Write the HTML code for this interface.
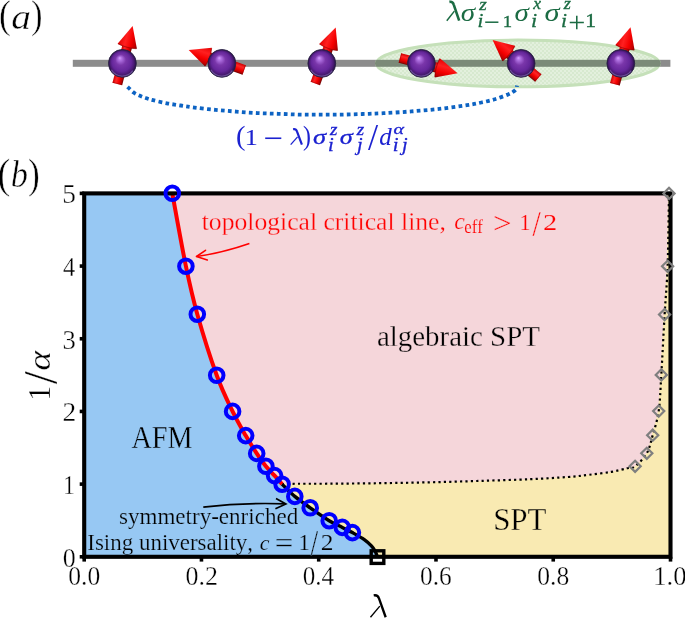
<!DOCTYPE html><html><head><meta charset="utf-8"><style>html,body{margin:0;padding:0;background:#fff;overflow:hidden}svg{display:block;will-change:transform}text{font-family:"Liberation Serif",serif;font-kerning:none}</style></head><body>
<svg width="685" height="618" viewBox="0 0 685 618">
<defs>
<radialGradient id="sph" cx="0.5" cy="0.5" r="0.5" fx="0.4" fy="0.3">
<stop offset="0" stop-color="#d8a0ff"/><stop offset="0.12" stop-color="#b274e4"/><stop offset="0.38" stop-color="#7a36aa"/><stop offset="0.7" stop-color="#64269a"/><stop offset="0.86" stop-color="#4a1a74"/><stop offset="0.96" stop-color="#2e1250"/><stop offset="1" stop-color="#1e0c38"/>
</radialGradient>
<radialGradient id="rim" cx="0.5" cy="0.5" r="0.5" fx="0.55" fy="0.25">
<stop offset="0.8" stop-color="#9a80d0" stop-opacity="0"/><stop offset="0.97" stop-color="#9a80d0" stop-opacity="0.55"/><stop offset="1" stop-color="#9a80d0" stop-opacity="0"/>
</radialGradient>
<linearGradient id="arr" x1="0" y1="0" x2="1" y2="0">
<stop offset="0" stop-color="#c00000"/><stop offset="0.45" stop-color="#ff2020"/><stop offset="1" stop-color="#b00000"/>
</linearGradient>
<linearGradient id="arrS" x1="0" y1="0" x2="0" y2="1"><stop offset="0" stop-color="#d00000"/><stop offset="0.3" stop-color="#ff2626"/><stop offset="0.62" stop-color="#f20000"/><stop offset="0.85" stop-color="#b80000"/><stop offset="1" stop-color="#6a0000"/></linearGradient>
<linearGradient id="arrH" x1="0" y1="0" x2="0" y2="1"><stop offset="0" stop-color="#e40000"/><stop offset="0.35" stop-color="#ff2020"/><stop offset="0.65" stop-color="#f40000"/><stop offset="0.88" stop-color="#c00000"/><stop offset="1" stop-color="#700000"/></linearGradient>
<pattern id="hatch" width="4" height="4" patternUnits="userSpaceOnUse"><rect width="4" height="4" fill="#e3f0dd"/><rect width="2" height="2" fill="#d7e9cf"/><rect x="2" y="2" width="2" height="2" fill="#d7e9cf"/></pattern>
<clipPath id="ax"><rect x="84.2" y="193.4" width="586.3" height="363.4"/></clipPath>
</defs>
<g clip-path="url(#ax)">
<rect x="84.2" y="193.4" width="586.3" height="363.4" fill="#f9eab2"/>
<path d="M172.3,180 L668.7,180 L668.1,193.4 C667.87,205.55 667.43,246.1 666.7,266.3 C665.97,286.5 664.75,296.5 663.7,314.6 C662.65,332.7 661.38,358.82 660.4,374.9 C659.42,390.98 659.23,401.05 657.8,411.1 C656.37,421.15 653.7,428.17 651.8,435.2 C649.9,442.23 649.25,448.12 646.4,453.3 C643.55,458.48 637.97,463.8 634.7,466.3 C631.43,468.8 630.8,467.37 626.8,468.3 C622.8,469.23 617.03,470.82 610.7,471.9 C604.37,472.98 596.05,473.95 588.8,474.8 C581.55,475.65 577.07,476.27 567.2,477 C557.33,477.73 544.2,478.55 529.6,479.2 C515,479.85 496.27,480.38 479.6,480.9 C462.93,481.42 446.27,481.92 429.6,482.3 C412.93,482.68 396.27,482.97 379.6,483.2 C362.93,483.43 344.6,483.6 329.6,483.7 C314.6,483.8 297.58,483.72 289.6,483.8 C281.62,483.88 283.02,484.13 281.7,484.2 L282.1,484.2 C280.85,482.77 277.3,478.58 274.6,475.6 C271.9,472.62 268.88,470 265.9,466.3 C262.92,462.6 260.07,458.52 256.7,453.4 C253.33,448.28 249.72,442.6 245.7,435.6 C241.68,428.6 237.43,421.45 232.6,411.4 C227.77,401.35 222.58,391.5 216.7,375.3 C210.82,359.1 202.43,332.38 197.3,314.2 C192.17,296.02 190.07,286.35 185.9,266.2 C181.73,246.05 174.57,205.45 172.3,193.3 Z" fill="#f5d6da"/>
<path d="M70,180 L172.3,180 L172.3,193.3 C174.57,205.45 181.73,246.05 185.9,266.2 C190.07,286.35 192.17,296.02 197.3,314.2 C202.43,332.38 210.82,359.1 216.7,375.3 C222.58,391.5 227.77,401.35 232.6,411.4 C237.43,421.45 241.68,428.6 245.7,435.6 C249.72,442.6 253.33,448.28 256.7,453.4 C260.07,458.52 262.92,462.6 265.9,466.3 C268.88,470 271.9,472.62 274.6,475.6 C277.3,478.58 280.85,482.77 282.1,484.2 L282.1,484.2 C284.22,486.23 290.12,492.47 294.8,496.4 C299.48,500.33 304.47,503.75 310.2,507.8 C315.93,511.85 323.85,517.43 329.2,520.7 C334.55,523.97 338.43,525.42 342.3,527.4 C346.17,529.38 348.73,530.57 352.4,532.6 C356.07,534.63 361.13,537.38 364.3,539.6 C367.47,541.82 369.58,543.97 371.4,545.9 C373.22,547.83 374.2,549.35 375.2,551.2 C376.2,553.05 377.03,556.03 377.4,557 L377.4,570 L70,570 Z" fill="#97c8f3"/>
</g>
<path d="M669,193.4 C668.77,205.55 668.33,246.1 667.6,266.3 C666.87,286.5 665.65,296.5 664.6,314.6 C663.55,332.7 662.28,358.82 661.3,374.9 C660.32,390.98 660.13,401.05 658.7,411.1 C657.27,421.15 654.68,428.17 652.7,435.2 C650.72,442.23 649.73,448.12 646.8,453.3 C643.87,458.48 638.37,463.8 635.1,466.3 C631.83,468.8 631.2,467.37 627.2,468.3 C623.2,469.23 617.43,470.82 611.1,471.9 C604.77,472.98 596.45,473.95 589.2,474.8 C581.95,475.65 577.47,476.27 567.6,477 C557.73,477.73 544.6,478.55 530,479.2 C515.4,479.85 496.67,480.38 480,480.9 C463.33,481.42 446.67,481.92 430,482.3 C413.33,482.68 396.67,482.97 380,483.2 C363.33,483.43 345,483.6 330,483.7 C315,483.8 297.98,483.72 290,483.8 C282.02,483.88 283.42,484.13 282.1,484.2" fill="none" stroke="#000" stroke-width="2.2" stroke-dasharray="2.2 3.2"/>
<path d="M172.3,193.3 C174.57,205.45 181.73,246.05 185.9,266.2 C190.07,286.35 192.17,296.02 197.3,314.2 C202.43,332.38 210.82,359.1 216.7,375.3 C222.58,391.5 227.77,401.35 232.6,411.4 C237.43,421.45 241.68,428.6 245.7,435.6 C249.72,442.6 253.33,448.28 256.7,453.4 C260.07,458.52 262.92,462.6 265.9,466.3 C268.88,470 271.9,472.62 274.6,475.6 C277.3,478.58 280.85,482.77 282.1,484.2" fill="none" stroke="#ff0000" stroke-width="4.0"/>
<path d="M282.1,484.2 C284.22,486.23 290.12,492.47 294.8,496.4 C299.48,500.33 304.47,503.75 310.2,507.8 C315.93,511.85 323.85,517.43 329.2,520.7 C334.55,523.97 338.43,525.42 342.3,527.4 C346.17,529.38 348.73,530.57 352.4,532.6 C356.07,534.63 361.13,537.38 364.3,539.6 C367.47,541.82 369.58,543.97 371.4,545.9 C373.22,547.83 374.2,549.35 375.2,551.2 C376.2,553.05 377.03,556.03 377.4,557" fill="none" stroke="#000" stroke-width="3.4"/>
<rect x="84.2" y="193.4" width="586.3" height="363.4" fill="none" stroke="#000" stroke-width="4.1"/>
<line x1="84.2" y1="556.8" x2="84.2" y2="561.6" stroke="#000" stroke-width="3.6"/>
<line x1="79.7" y1="556.8" x2="84.2" y2="556.8" stroke="#000" stroke-width="3.6"/>
<line x1="201.46" y1="556.8" x2="201.46" y2="561.6" stroke="#000" stroke-width="3.6"/>
<line x1="79.7" y1="484.12" x2="84.2" y2="484.12" stroke="#000" stroke-width="3.6"/>
<line x1="318.72" y1="556.8" x2="318.72" y2="561.6" stroke="#000" stroke-width="3.6"/>
<line x1="79.7" y1="411.44" x2="84.2" y2="411.44" stroke="#000" stroke-width="3.6"/>
<line x1="435.98" y1="556.8" x2="435.98" y2="561.6" stroke="#000" stroke-width="3.6"/>
<line x1="79.7" y1="338.76" x2="84.2" y2="338.76" stroke="#000" stroke-width="3.6"/>
<line x1="553.24" y1="556.8" x2="553.24" y2="561.6" stroke="#000" stroke-width="3.6"/>
<line x1="79.7" y1="266.08" x2="84.2" y2="266.08" stroke="#000" stroke-width="3.6"/>
<line x1="670.5" y1="556.8" x2="670.5" y2="561.6" stroke="#000" stroke-width="3.6"/>
<line x1="79.7" y1="193.4" x2="84.2" y2="193.4" stroke="#000" stroke-width="3.6"/>
<path d="M669,187.8 L674.6,193.4 L669,199 L663.4,193.4 Z" fill="none" stroke="#7f7f7f" stroke-width="2.2"/>
<path d="M667.6,260.7 L673.2,266.3 L667.6,271.9 L662,266.3 Z" fill="none" stroke="#7f7f7f" stroke-width="2.2"/>
<path d="M664.6,309 L670.2,314.6 L664.6,320.2 L659,314.6 Z" fill="none" stroke="#7f7f7f" stroke-width="2.2"/>
<path d="M661.3,369.3 L666.9,374.9 L661.3,380.5 L655.7,374.9 Z" fill="none" stroke="#7f7f7f" stroke-width="2.2"/>
<path d="M658.7,405.5 L664.3,411.1 L658.7,416.7 L653.1,411.1 Z" fill="none" stroke="#7f7f7f" stroke-width="2.2"/>
<path d="M652.7,429.6 L658.3,435.2 L652.7,440.8 L647.1,435.2 Z" fill="none" stroke="#7f7f7f" stroke-width="2.2"/>
<path d="M646.8,447.7 L652.4,453.3 L646.8,458.9 L641.2,453.3 Z" fill="none" stroke="#7f7f7f" stroke-width="2.2"/>
<path d="M635.1,460.7 L640.7,466.3 L635.1,471.9 L629.5,466.3 Z" fill="none" stroke="#7f7f7f" stroke-width="2.2"/>
<circle cx="172.3" cy="193.3" r="6.8" fill="none" stroke="#0000ff" stroke-width="4.0"/>
<circle cx="185.9" cy="266.2" r="6.8" fill="none" stroke="#0000ff" stroke-width="4.0"/>
<circle cx="197.3" cy="314.2" r="6.8" fill="none" stroke="#0000ff" stroke-width="4.0"/>
<circle cx="216.7" cy="375.3" r="6.8" fill="none" stroke="#0000ff" stroke-width="4.0"/>
<circle cx="232.6" cy="411.4" r="6.8" fill="none" stroke="#0000ff" stroke-width="4.0"/>
<circle cx="245.7" cy="435.6" r="6.8" fill="none" stroke="#0000ff" stroke-width="4.0"/>
<circle cx="256.7" cy="453.4" r="6.8" fill="none" stroke="#0000ff" stroke-width="4.0"/>
<circle cx="265.9" cy="466.3" r="6.8" fill="none" stroke="#0000ff" stroke-width="4.0"/>
<circle cx="274.6" cy="475.6" r="6.8" fill="none" stroke="#0000ff" stroke-width="4.0"/>
<circle cx="282.1" cy="484.2" r="6.8" fill="none" stroke="#0000ff" stroke-width="4.0"/>
<circle cx="294.8" cy="496.4" r="6.8" fill="none" stroke="#0000ff" stroke-width="4.0"/>
<circle cx="310.2" cy="507.8" r="6.8" fill="none" stroke="#0000ff" stroke-width="4.0"/>
<circle cx="329.2" cy="520.7" r="6.8" fill="none" stroke="#0000ff" stroke-width="4.0"/>
<circle cx="342.3" cy="527.4" r="6.8" fill="none" stroke="#0000ff" stroke-width="4.0"/>
<circle cx="352.4" cy="532.6" r="6.8" fill="none" stroke="#0000ff" stroke-width="4.0"/>
<rect x="371.2" y="550.8" width="12.6" height="12.6" fill="none" stroke="#000" stroke-width="3.4"/>
<path d="M249.4,243.4 Q222.9,252.6 196.6,256.5" fill="none" stroke="#f00" stroke-width="1.6"/>
<path d="M205.5,250.3 L196.5,256.5 L207.3,260" fill="none" stroke="#f00" stroke-width="1.6" stroke-linecap="round" stroke-linejoin="round"/>
<path d="M203.3,507.1 Q245,502.3 285.6,503.9" fill="none" stroke="#000" stroke-width="1.7"/>
<path d="M276,498.4 L285.9,503.9 L275.4,508.8" fill="none" stroke="#000" stroke-width="1.7" stroke-linejoin="miter"/>
<text transform="translate(201.75,229.8) scale(1.0177,1)" font-size="25.2" style="white-space:pre" fill="#ff0000" stroke="#f5d6da" stroke-width="0.28" vector-effect="non-scaling-stroke">topological critical line,</text>
<text transform="translate(454.17,229.27) scale(0.2386,0.2370)" font-size="100" style="font-style:italic;" fill="#ff0000" stroke="#f5d6da" stroke-width="0.25" vector-effect="non-scaling-stroke">c</text>
<text transform="translate(464.35,233.4) scale(0.9287,1)" font-size="18" style="white-space:pre" fill="#ff0000" stroke="#f5d6da" stroke-width="0.13" vector-effect="non-scaling-stroke">eff</text>
<text transform="translate(493.02,233.04) scale(0.3309,0.2902)" font-size="100" style="" fill="#ff0000" stroke="#f5d6da" stroke-width="0.30" vector-effect="non-scaling-stroke">&gt;</text>
<text transform="translate(519.55,229.5) scale(0.2216,0.2257)" font-size="100" style="" fill="#ff0000" stroke="#f5d6da" stroke-width="0.23" vector-effect="non-scaling-stroke">1</text>
<text transform="translate(532.5,236.14) scale(0.2951,0.3662)" font-size="100" style="" fill="#ff0000" stroke="#f5d6da" stroke-width="0.30" vector-effect="non-scaling-stroke">/</text>
<text transform="translate(542.95,229.5) scale(0.2844,0.2250)" font-size="100" style="" fill="#ff0000" stroke="#f5d6da" stroke-width="0.23" vector-effect="non-scaling-stroke">2</text>
<text transform="translate(376.88,346.3) scale(0.9549,1)" font-size="30.3" style="white-space:pre" fill="#000" stroke="#f5d6da" stroke-width="0.30" vector-effect="non-scaling-stroke">algebraic SPT</text>
<text transform="translate(131.42,448) scale(0.9228,1)" font-size="30.6" style="white-space:pre" fill="#000" stroke="#97c8f3" stroke-width="0.30" vector-effect="non-scaling-stroke">AFM</text>
<text transform="translate(493.13,530.1) scale(0.9994,1)" font-size="31" style="white-space:pre" fill="#000" stroke="#f9eab2" stroke-width="0.30" vector-effect="non-scaling-stroke">SPT</text>
<text transform="translate(119.05,523.9) scale(0.9936,1)" font-size="23.2" style="white-space:pre" fill="#000" stroke="#97c8f3" stroke-width="0.24" vector-effect="non-scaling-stroke">symmetry-enriched</text>
<text transform="translate(87.27,549.8) scale(0.9859,1)" font-size="23.3" style="white-space:pre" fill="#000" stroke="#97c8f3" stroke-width="0.24" vector-effect="non-scaling-stroke">Ising universality,</text>
<text transform="translate(259.73,549.59) scale(0.2187,0.2121)" font-size="100" style="font-style:italic;" fill="#000" stroke="#97c8f3" stroke-width="0.20" vector-effect="non-scaling-stroke">c</text>
<text transform="translate(274.86,552.95) scale(0.3288,0.2920)" font-size="100" style="" fill="#000" stroke="#97c8f3" stroke-width="0.30" vector-effect="non-scaling-stroke">=</text>
<text transform="translate(298.6,549.8) scale(0.2272,0.2257)" font-size="100" style="" fill="#000" stroke="#97c8f3" stroke-width="0.23" vector-effect="non-scaling-stroke">1</text>
<text transform="translate(310.8,555.36) scale(0.2627,0.3498)" font-size="100" style="" fill="#000" stroke="#97c8f3" stroke-width="0.30" vector-effect="non-scaling-stroke">/</text>
<text transform="translate(320.68,549.8) scale(0.2544,0.2250)" font-size="100" style="" fill="#000" stroke="#97c8f3" stroke-width="0.23" vector-effect="non-scaling-stroke">2</text>
<text transform="translate(68.23,584.7) scale(0.9466,1)" font-size="27" style="white-space:pre" fill="#000" stroke="#fff" stroke-width="0.30" vector-effect="non-scaling-stroke">0.0</text>
<text transform="translate(185.47,584.7) scale(0.9606,1)" font-size="27" style="white-space:pre" fill="#000" stroke="#fff" stroke-width="0.30" vector-effect="non-scaling-stroke">0.2</text>
<text transform="translate(302.76,584.7) scale(0.9288,1)" font-size="27" style="white-space:pre" fill="#000" stroke="#fff" stroke-width="0.30" vector-effect="non-scaling-stroke">0.4</text>
<text transform="translate(420.01,584.7) scale(0.9399,1)" font-size="27" style="white-space:pre" fill="#000" stroke="#fff" stroke-width="0.30" vector-effect="non-scaling-stroke">0.6</text>
<text transform="translate(537.27,584.7) scale(0.9466,1)" font-size="27" style="white-space:pre" fill="#000" stroke="#fff" stroke-width="0.30" vector-effect="non-scaling-stroke">0.8</text>
<text transform="translate(653.15,584.7) scale(0.9885,1)" font-size="27" style="white-space:pre" fill="#000" stroke="#fff" stroke-width="0.30" vector-effect="non-scaling-stroke">1.0</text>
<text transform="translate(62.21,202.54) scale(0.2731,0.2694)" font-size="100" style="" fill="#000" stroke="#fff" stroke-width="0.30" vector-effect="non-scaling-stroke">5</text>
<text transform="translate(63.12,275.8) scale(0.2452,0.2735)" font-size="100" style="" fill="#000" stroke="#fff" stroke-width="0.30" vector-effect="non-scaling-stroke">4</text>
<text transform="translate(62.53,348.53) scale(0.2663,0.2813)" font-size="100" style="" fill="#000" stroke="#fff" stroke-width="0.30" vector-effect="non-scaling-stroke">3</text>
<text transform="translate(62.59,420.8) scale(0.2744,0.2673)" font-size="100" style="" fill="#000" stroke="#fff" stroke-width="0.30" vector-effect="non-scaling-stroke">2</text>
<text transform="translate(62.93,493.8) scale(0.2358,0.2681)" font-size="100" style="" fill="#000" stroke="#fff" stroke-width="0.30" vector-effect="non-scaling-stroke">1</text>
<text transform="translate(62.81,566.74) scale(0.2595,0.2697)" font-size="100" style="" fill="#000" stroke="#fff" stroke-width="0.30" vector-effect="non-scaling-stroke">0</text>
<path d="M373.71,595.39 Q377.8,594.7 378.99,598.5 L385.69,617.26" fill="none" stroke="#000" stroke-width="2.35"/>
<path d="M379.81,606.15 L370.47,617.26" fill="none" stroke="#000" stroke-width="1.36"/>
<text transform="translate(49.6,400.65) rotate(-90) scale(0.3011,0.3181)" font-size="100" style="" fill="#000" stroke="#fff" stroke-width="0.30" vector-effect="non-scaling-stroke">1</text>
<text transform="translate(57.23,384.2) rotate(-90) scale(0.4643,0.4828)" font-size="100" style="" fill="#000" stroke="#fff" stroke-width="0.30" vector-effect="non-scaling-stroke">/</text>
<text transform="translate(50.17,370.73) rotate(-90) scale(0.3791,0.3195)" font-size="100" style="font-style:italic;" fill="#000" stroke="#fff" stroke-width="0.30" vector-effect="non-scaling-stroke">α</text>
<rect x="72.8" y="59.8" width="597.6" height="7" fill="#8c8c8c"/>
<ellipse cx="517.9" cy="63.45" rx="141.5" ry="23.35" fill="url(#hatch)" stroke="#c5e0b9" stroke-width="3"/>
<clipPath id="elc"><ellipse cx="517.9" cy="63.45" rx="143" ry="24.85"/></clipPath>
<rect x="370" y="59.8" width="300.4" height="7" fill="#7b8a78" clip-path="url(#elc)"/>
<path id="blc" d="M127.6,86.8 C128.6,87.75 131.53,91 133.6,92.5 C135.67,94 137.88,94.85 140,95.8 C142.12,96.75 144.12,97.47 146.3,98.2 C148.48,98.93 149.68,99.35 153.1,100.2 C156.52,101.05 162.2,102.42 166.8,103.3 C171.4,104.18 176.07,104.78 180.7,105.5 C185.33,106.22 188.8,106.87 194.6,107.6 C200.4,108.33 208.57,109.23 215.5,109.9 C222.43,110.57 229.22,111.07 236.2,111.6 C243.18,112.13 250.35,112.73 257.4,113.1 C264.45,113.47 271.45,113.55 278.5,113.8 C285.55,114.05 292.68,114.45 299.7,114.6 C306.72,114.75 313.62,114.7 320.6,114.7 C327.58,114.7 334.62,114.72 341.6,114.6 C348.58,114.48 355.5,114.23 362.5,114 C369.5,113.77 375.45,113.63 383.6,113.2 C391.75,112.77 402.15,112.12 411.4,111.4 C420.65,110.68 429.85,109.93 439.1,108.9 C448.35,107.87 459.83,106.27 466.9,105.2 C473.97,104.13 476.82,103.5 481.5,102.5 C486.18,101.5 490.57,100.55 495,99.2 C499.43,97.85 505,95.7 508.1,94.4 C511.2,93.1 512.22,92.37 513.6,91.4 C514.98,90.43 515.83,89.57 516.4,88.6 C516.97,87.63 516.9,86.1 517,85.6" fill="none" stroke="#0d63c3" stroke-width="3.8" stroke-dasharray="3.7 3.3"/>
<g transform="translate(117.3,84) rotate(-75.25)"><rect x="0" y="-5.0" width="40.08" height="10.0" fill="url(#arrS)"/><path d="M39.08,-10.0 L60.08,0 L39.08,10.0 Q36.58,0 39.08,-10.0 Z" fill="url(#arrH)"/><path d="M39.08,-9.4 Q36.88,0 39.08,9.4" fill="none" stroke="#8a0000" stroke-opacity="0.6" stroke-width="1.1"/><rect x="0" y="-5.0" width="0.9" height="10.0" fill="#900000" fill-opacity="0.5"/></g>
<circle cx="122.4" cy="63.4" r="13.9" fill="url(#sph)" stroke="#2a2246" stroke-width="0.9"/>
<path d="M132.8,70.68 A12.7,12.7 0 0 1 111.4,69.75" fill="none" stroke="#9478c8" stroke-opacity="0.55" stroke-width="1.3"/>
<g transform="translate(244.2,70) rotate(-160.09) scale(1,-1)"><rect x="0" y="-5.0" width="39.03" height="10.0" fill="url(#arrS)"/><path d="M38.03,-10.0 L59.03,0 L38.03,10.0 Q35.53,0 38.03,-10.0 Z" fill="url(#arrH)"/><path d="M38.03,-9.4 Q35.83,0 38.03,9.4" fill="none" stroke="#8a0000" stroke-opacity="0.6" stroke-width="1.1"/><rect x="0" y="-5.0" width="0.9" height="10.0" fill="#900000" fill-opacity="0.5"/></g>
<circle cx="221.9" cy="63.4" r="13.9" fill="url(#sph)" stroke="#2a2246" stroke-width="0.9"/>
<path d="M232.3,70.68 A12.7,12.7 0 0 1 210.9,69.75" fill="none" stroke="#9478c8" stroke-opacity="0.55" stroke-width="1.3"/>
<g transform="translate(315.3,83.5) rotate(-69.95)"><rect x="0" y="-5.0" width="39.51" height="10.0" fill="url(#arrS)"/><path d="M38.51,-10.0 L59.51,0 L38.51,10.0 Q36.01,0 38.51,-10.0 Z" fill="url(#arrH)"/><path d="M38.51,-9.4 Q36.31,0 38.51,9.4" fill="none" stroke="#8a0000" stroke-opacity="0.6" stroke-width="1.1"/><rect x="0" y="-5.0" width="0.9" height="10.0" fill="#900000" fill-opacity="0.5"/></g>
<circle cx="321.8" cy="63.4" r="13.9" fill="url(#sph)" stroke="#2a2246" stroke-width="0.9"/>
<path d="M332.2,70.68 A12.7,12.7 0 0 1 310.8,69.75" fill="none" stroke="#9478c8" stroke-opacity="0.55" stroke-width="1.3"/>
<g transform="translate(399.9,58) rotate(14.85)"><rect x="0" y="-5.0" width="39.69" height="10.0" fill="url(#arrS)"/><path d="M38.69,-10.0 L59.69,0 L38.69,10.0 Q36.19,0 38.69,-10.0 Z" fill="url(#arrH)"/><path d="M38.69,-9.4 Q36.49,0 38.69,9.4" fill="none" stroke="#8a0000" stroke-opacity="0.6" stroke-width="1.1"/><rect x="0" y="-5.0" width="0.9" height="10.0" fill="#900000" fill-opacity="0.5"/></g>
<circle cx="421.4" cy="63.4" r="13.9" fill="url(#sph)" stroke="#2a2246" stroke-width="0.9"/>
<path d="M431.8,70.68 A12.7,12.7 0 0 1 410.4,69.75" fill="none" stroke="#9478c8" stroke-opacity="0.55" stroke-width="1.3"/>
<g transform="translate(538.3,78) rotate(-140.33) scale(1,-1)"><rect x="0" y="-5.0" width="39.37" height="10.0" fill="url(#arrS)"/><path d="M38.37,-10.0 L59.37,0 L38.37,10.0 Q35.87,0 38.37,-10.0 Z" fill="url(#arrH)"/><path d="M38.37,-9.4 Q36.17,0 38.37,9.4" fill="none" stroke="#8a0000" stroke-opacity="0.6" stroke-width="1.1"/><rect x="0" y="-5.0" width="0.9" height="10.0" fill="#900000" fill-opacity="0.5"/></g>
<circle cx="521.1" cy="63.4" r="13.9" fill="url(#sph)" stroke="#2a2246" stroke-width="0.9"/>
<path d="M531.5,70.68 A12.7,12.7 0 0 1 510.1,69.75" fill="none" stroke="#9478c8" stroke-opacity="0.55" stroke-width="1.3"/>
<g transform="translate(614.9,84.2) rotate(-74.67)"><rect x="0" y="-5.0" width="39" height="10.0" fill="url(#arrS)"/><path d="M38,-10.0 L59,0 L38,10.0 Q35.5,0 38,-10.0 Z" fill="url(#arrH)"/><path d="M38,-9.4 Q35.8,0 38,9.4" fill="none" stroke="#8a0000" stroke-opacity="0.6" stroke-width="1.1"/><rect x="0" y="-5.0" width="0.9" height="10.0" fill="#900000" fill-opacity="0.5"/></g>
<circle cx="620.8" cy="63.4" r="13.9" fill="url(#sph)" stroke="#2a2246" stroke-width="0.9"/>
<path d="M631.2,70.68 A12.7,12.7 0 0 1 609.8,69.75" fill="none" stroke="#9478c8" stroke-opacity="0.55" stroke-width="1.3"/>
<path d="M449.41,1.89 Q452.74,1.3 453.72,4.57 L459.17,20.7" fill="none" stroke="#1b6b43" stroke-width="2.58"/>
<path d="M454.38,11.15 L446.77,20.7" fill="none" stroke="#1b6b43" stroke-width="1.5"/>
<text transform="translate(460.83,20.76) scale(0.2908,0.2455)" font-size="100" style="font-style:italic;" fill="#1b6b43">σ</text>
<text transform="translate(479.13,9.9) scale(0.1928,0.1721)" font-size="100" style="font-style:italic;" fill="#1b6b43" stroke="#1b6b43" stroke-width="0.35" vector-effect="non-scaling-stroke">z</text>
<text transform="translate(477.54,27) scale(0.2114,0.1888)" font-size="100" style="font-style:italic;" fill="#1b6b43" stroke="#1b6b43" stroke-width="0.35" vector-effect="non-scaling-stroke">i</text>
<text transform="translate(483.89,31.65) scale(0.2837,0.3012)" font-size="100" style="" fill="#1b6b43">−</text>
<text transform="translate(502.75,27.2) scale(0.1875,0.1727)" font-size="100" style="" fill="#1b6b43" stroke="#1b6b43" stroke-width="0.35" vector-effect="non-scaling-stroke">1</text>
<text transform="translate(514.43,20.76) scale(0.2908,0.2455)" font-size="100" style="font-style:italic;" fill="#1b6b43">σ</text>
<text transform="translate(533.22,8.5) scale(0.1757,0.1569)" font-size="100" style="font-style:italic;" fill="#1b6b43" stroke="#1b6b43" stroke-width="0.35" vector-effect="non-scaling-stroke">x</text>
<text transform="translate(530.94,26.9) scale(0.2216,0.1979)" font-size="100" style="font-style:italic;" fill="#1b6b43" stroke="#1b6b43" stroke-width="0.35" vector-effect="non-scaling-stroke">i</text>
<text transform="translate(544.59,20.76) scale(0.3050,0.2455)" font-size="100" style="font-style:italic;" fill="#1b6b43">σ</text>
<text transform="translate(563.76,9) scale(0.1830,0.1634)" font-size="100" style="font-style:italic;" fill="#1b6b43" stroke="#1b6b43" stroke-width="0.35" vector-effect="non-scaling-stroke">z</text>
<text transform="translate(560.92,26.9) scale(0.2165,0.1933)" font-size="100" style="font-style:italic;" fill="#1b6b43" stroke="#1b6b43" stroke-width="0.35" vector-effect="non-scaling-stroke">i</text>
<text transform="translate(568.29,31.84) scale(0.3030,0.2963)" font-size="100" style="" fill="#1b6b43">+</text>
<text transform="translate(585.3,26.9) scale(0.2159,0.1939)" font-size="100" style="" fill="#1b6b43" stroke="#1b6b43" stroke-width="0.35" vector-effect="non-scaling-stroke">1</text>
<text transform="translate(236.05,145.08) scale(0.2842,0.2779)" font-size="100" style="" fill="#1c22d0">(</text>
<text transform="translate(244.43,144.8) scale(0.2698,0.2318)" font-size="100" style="" fill="#1c22d0">1</text>
<text transform="translate(263.28,149.37) scale(0.3460,0.3213)" font-size="100" style="" fill="#1c22d0">−</text>
<path d="M293.07,129.28 Q296.08,128.8 296.96,131.46 L301.89,144.56" fill="none" stroke="#1c22d0" stroke-width="2.19"/>
<path d="M297.56,136.8 L290.69,144.56" fill="none" stroke="#1c22d0" stroke-width="1.27"/>
<text transform="translate(302.93,144.78) scale(0.2375,0.2735)" font-size="100" style="" fill="#1c22d0">)</text>
<text transform="translate(313.01,144.49) scale(0.2646,0.2170)" font-size="100" style="font-style:italic;" fill="#1c22d0" stroke="#1c22d0" stroke-width="0.35" vector-effect="non-scaling-stroke">σ</text>
<text transform="translate(329.98,134.6) scale(0.1903,0.1699)" font-size="100" style="font-style:italic;" fill="#1c22d0" stroke="#1c22d0" stroke-width="0.35" vector-effect="non-scaling-stroke">z</text>
<text transform="translate(327.9,151.3) scale(0.2081,0.1858)" font-size="100" style="font-style:italic;" fill="#1c22d0" stroke="#1c22d0" stroke-width="0.35" vector-effect="non-scaling-stroke">i</text>
<text transform="translate(339.71,144.49) scale(0.2646,0.2170)" font-size="100" style="font-style:italic;" fill="#1c22d0" stroke="#1c22d0" stroke-width="0.35" vector-effect="non-scaling-stroke">σ</text>
<text transform="translate(356.83,134.6) scale(0.1903,0.1699)" font-size="100" style="font-style:italic;" fill="#1c22d0" stroke="#1c22d0" stroke-width="0.35" vector-effect="non-scaling-stroke">z</text>
<text transform="translate(356.92,150.96) scale(0.2022,0.1806)" font-size="100" style="font-style:italic;" fill="#1c22d0" stroke="#1c22d0" stroke-width="0.35" vector-effect="non-scaling-stroke">j</text>
<text transform="translate(368.1,150.44) scale(0.3635,0.3722)" font-size="100" style="" fill="#1c22d0">/</text>
<text transform="translate(379.24,144.84) scale(0.2499,0.2542)" font-size="100" style="font-style:italic;" fill="#1c22d0">d</text>
<text transform="translate(393.5,134.44) scale(0.1996,0.1535)" font-size="100" style="font-style:italic;" fill="#1c22d0" stroke="#1c22d0" stroke-width="0.35" vector-effect="non-scaling-stroke">α</text>
<text transform="translate(392.8,151.3) scale(0.2081,0.1858)" font-size="100" style="font-style:italic;" fill="#1c22d0" stroke="#1c22d0" stroke-width="0.35" vector-effect="non-scaling-stroke">i</text>
<text transform="translate(402.12,150.96) scale(0.2022,0.1806)" font-size="100" style="font-style:italic;" fill="#1c22d0" stroke="#1c22d0" stroke-width="0.35" vector-effect="non-scaling-stroke">j</text>
<text transform="translate(-0.91,28.31) scale(0.3582,0.3986)" font-size="100" style="" fill="#000" stroke="#fff" stroke-width="0.45" vector-effect="non-scaling-stroke">(</text>
<text transform="translate(11.32,28.54) scale(0.3953,0.3555)" font-size="100" style="font-style:italic;" fill="#000" stroke="#fff" stroke-width="0.45" vector-effect="non-scaling-stroke">a</text>
<text transform="translate(31.08,28.31) scale(0.3465,0.3986)" font-size="100" style="" fill="#000" stroke="#fff" stroke-width="0.45" vector-effect="non-scaling-stroke">)</text>
<text transform="translate(-2.49,187.84) scale(0.3855,0.4257)" font-size="100" style="" fill="#000" stroke="#fff" stroke-width="0.45" vector-effect="non-scaling-stroke">(</text>
<text transform="translate(10.72,187.03) scale(0.3444,0.3780)" font-size="100" style="font-style:italic;" fill="#000" stroke="#fff" stroke-width="0.45" vector-effect="non-scaling-stroke">b</text>
<text transform="translate(27.96,187.84) scale(0.3543,0.4257)" font-size="100" style="" fill="#000" stroke="#fff" stroke-width="0.45" vector-effect="non-scaling-stroke">)</text>
</svg></body></html>
